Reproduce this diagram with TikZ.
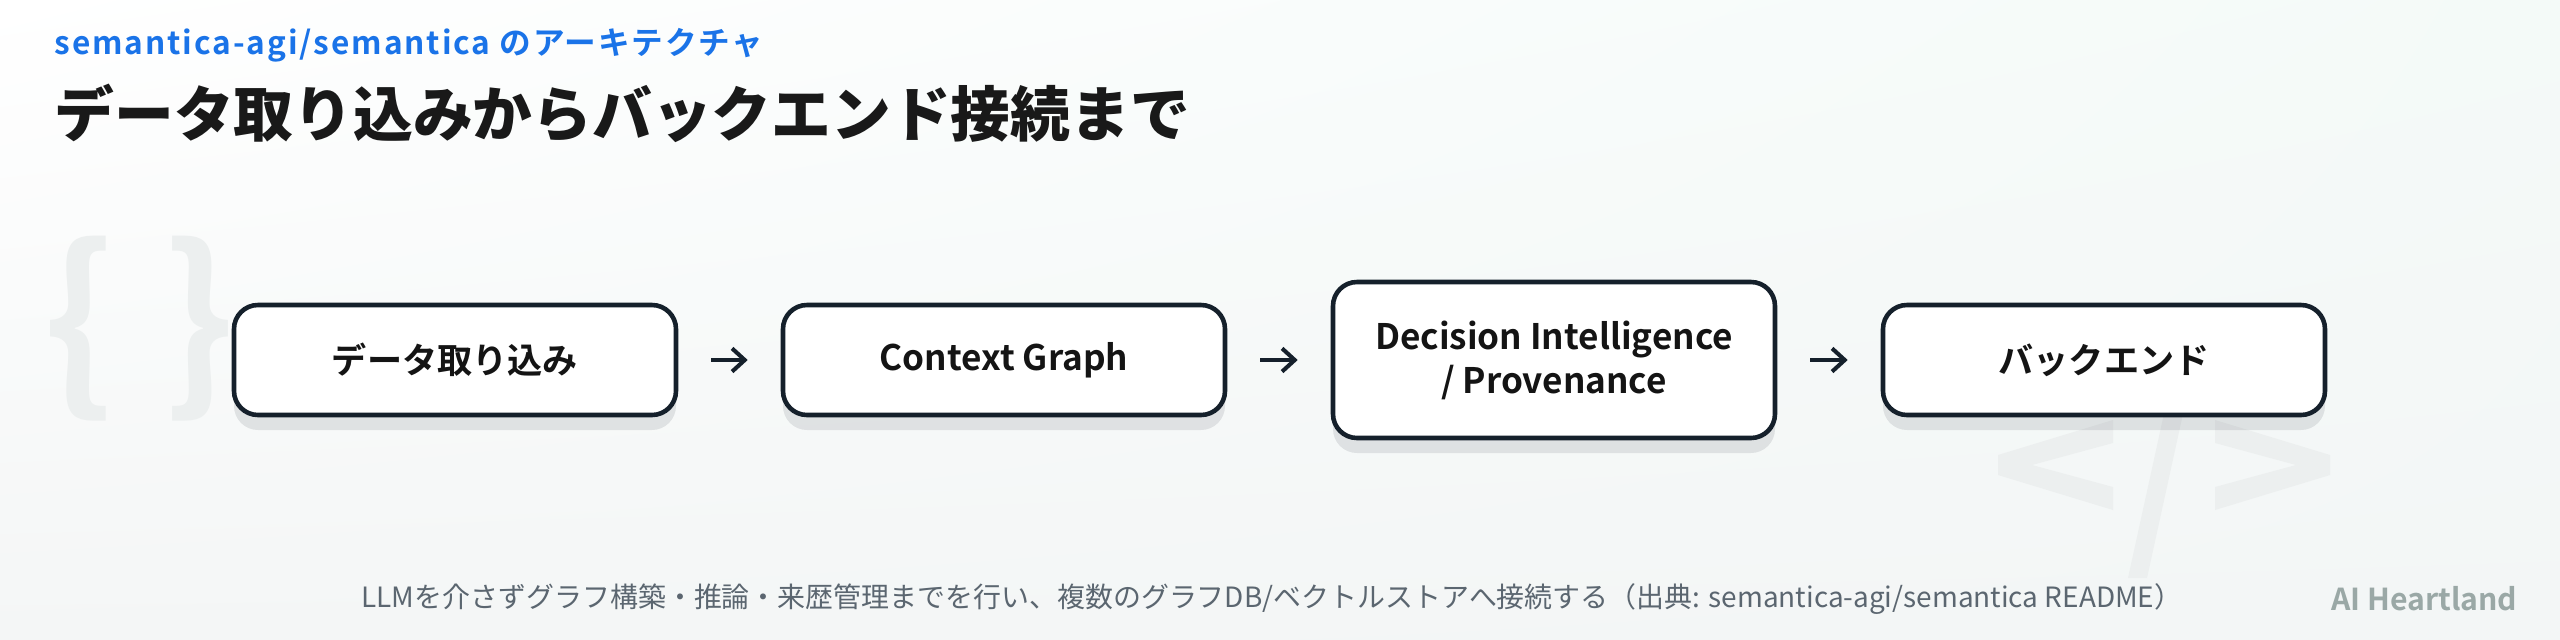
\documentclass[tikz,border=0pt]{standalone}
\usepackage{fontspec}
\setmainfont{Noto Sans CJK JP}[BoldFont={* Bold}]
\newfontfamily\subfont{Noto Sans CJK JP Bold}[LetterSpace=6]
\newfontfamily\titlefont{Noto Sans CJK JP Black}
\usetikzlibrary{arrows.meta,shadows,shadings}
\definecolor{ink}{HTML}{15202B}
\definecolor{accent}{HTML}{1A73E8}
\definecolor{faint}{HTML}{ECEFEF}
\definecolor{note}{HTML}{5B6670}
\definecolor{brand}{HTML}{9AA8A6}
\definecolor{bgmint}{HTML}{F4FAF8}
\definecolor{bggrey}{HTML}{F4F6F6}
\definecolor{bgdark}{HTML}{F3F6F6}
\begin{document}
\begin{tikzpicture}[x=0.1mm, y=-0.1mm, >={Straight Barb[length=3.6pt, width=6.6pt]},
  box/.style={draw=ink, line width=1.3pt, rounded corners=0.24cm, fill=white, minimum width=4.42cm, minimum height=1.10cm, align=center, text=black!92, font=\fontsize{10}{12.5}\selectfont\bfseries, drop shadow={shadow xshift=0cm, shadow yshift=-0.15cm, fill=ink, opacity=0.1}},
  brace/.style={text=faint, inner sep=0, font=\fontsize{54}{54}\selectfont\bfseries},
  link/.style={->, draw=ink, line width=1.15pt, shorten >=0.33cm, shorten <=0.33cm}]
    \useasboundingbox (0,0) rectangle (2560,640);
    \shade[upper left=white, upper right=bgmint, lower left=bggrey, lower right=bgdark] (0,0) rectangle (2560,640);
    % faint code marks in the back
    \node[brace] (bl) at (79,329) {\{};
    \node[brace] (br) at (199,329) {\}};
    \fill[faint] (2113,420) -- (1998,455) -- (1998,475) -- (2113,510) -- (2113,487) -- (2032,465) -- (2113,443) -- cycle;
    \fill[faint] (2215,420) -- (2330,455) -- (2330,475) -- (2215,510) -- (2215,487) -- (2296,465) -- (2215,443) -- cycle;
    \fill[faint] (2167,400) -- (2186,400) -- (2147,578) -- (2128,578) -- cycle;
    % heading
    \node[anchor=west, inner sep=0, text=accent, font=\subfont\fontsize{9}{11}\selectfont] (s) at (54,45) {semantica-agi/semantica のアーキテクチャ};
    \node[anchor=west, inner sep=0, text=black!90, font=\titlefont\fontsize{17}{20}\selectfont] (t) at (54,113) {データ取り込みからバックエンド接続まで};
    % pipeline
    \node[box] (1) at (455,360) {データ取り込み};
    \node[box] (2) at (1004,360) {Context Graph};
    \node[box, minimum height=1.56cm] (3) at (1554,360) {Decision Intelligence\\/ Provenance};
    \node[box] (4) at (2104,360) {バックエンド};
    \draw[link] (1) -- (2);
    \draw[link] (2) -- (3);
    \draw[link] (3) -- (4);
    % footer
    \node[inner sep=0, text=note, font=\fontsize{7.95}{10}\selectfont] (f) at (1272,599) {LLMを介さずグラフ構築・推論・来歴管理までを行い、複数のグラフDB/ベクトルストアへ接続する（出典: semantica-agi/semantica README）};
    \node[anchor=east, inner sep=0, text=brand, font=\fontsize{8.6}{11}\selectfont\bfseries] (w) at (2518,599) {AI Heartland};
\end{tikzpicture}
\end{document}
